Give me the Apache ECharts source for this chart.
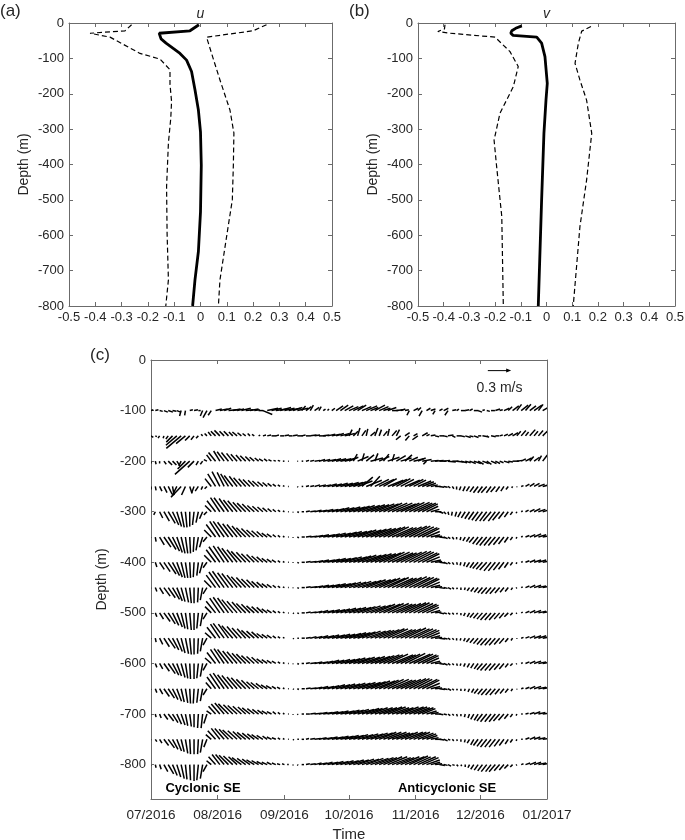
<!DOCTYPE html>
<html>
<head>
<meta charset="utf-8">
<script src="https://cdn.jsdelivr.net/npm/echarts@6/dist/echarts.min.js"></script>
<style>
  html, body { margin: 0; padding: 0; background: #fff; }
  #chart { width: 685px; height: 840px; }
</style>
</head>
<body>
<div id="chart"></div>
<script>
// ---- (a) u profile: mean and mean +/- std (m/s) ----
const uMeanDepth = [-5, -22, -29, -33, -45, -57, -86, -105, -137, -189, -246, -308, -402, -534, -646, -726, -800];
const uMean      = [-0.006, -0.04, -0.157, -0.16, -0.15, -0.131, -0.078, -0.053, -0.034, -0.021, -0.008, 0.0, 0.003, 0.0, -0.008, -0.021, -0.03];
const uUpDepth   = [-5, -22, -40, -100, -161, -246, -311, -400, -500, -576, -726, -800];
const uUp        = [0.251, 0.2, 0.023, 0.048, 0.074, 0.112, 0.127, 0.125, 0.121, 0.105, 0.074, 0.068];
const uLoDepth   = [-5, -22, -29, -40, -86, -102, -132, -173, -222, -269, -339, -463, -595, -726, -800];
const uLo        = [-0.262, -0.287, -0.42, -0.344, -0.23, -0.154, -0.116, -0.116, -0.11, -0.113, -0.122, -0.129, -0.127, -0.122, -0.132];

// ---- (b) v profile ----
const vMeanDepth = [-8, -15, -22, -29, -35, -40, -57, -95, -171, -218, -312, -500, -800];
const vMean      = [-0.096, -0.12, -0.135, -0.139, -0.13, -0.038, -0.019, -0.006, 0.003, -0.002, -0.01, -0.019, -0.032];
const vUpDepth   = [-10, -23, -57, -114, -161, -218, -312, -444, -576, -800];
const vUp        = [0.173, 0.137, 0.124, 0.111, 0.13, 0.156, 0.176, 0.156, 0.13, 0.104];
const vLoDepth   = [-5, -17, -24, -29, -40, -81, -123, -180, -255, -331, -406, -547, -800];
const vLo        = [-0.395, -0.397, -0.423, -0.375, -0.2, -0.142, -0.11, -0.129, -0.181, -0.204, -0.194, -0.174, -0.168];

const profileTicksX = [-0.5, 0.5, 0.1];

// ---- (c) stick plot: days since 2016-07-01, velocity in cm/s ----
const days = [0,2,4,6,8,10,12,14,16,18,20,22,24,26,28,30,32,34,36,38,40,42,44,46,48,50,52,54,56,58,60,62,64,66,68,70,72,74,76,78,80,82,84,86,88,90,
  92,94,96,98,100,102,104,106,108,110,112,114,116,118,120,122,124,126,128,130,132,134,136,138,140,142,144,146,148,150,152,154,156,158,160,162,164,166,168,170,172,174,176,178,180,182];

const monthTicks  = [0, 31, 62, 92, 123, 153, 184];
const monthLabels = ['07/2016', '08/2016', '09/2016', '10/2016', '11/2016', '12/2016', '01/2017'];
const depthTicks  = [0, -100, -200, -300, -400, -500, -600, -700, -800];
const rowDepths   = [-100, -150, -200, -250, -300, -350, -400, -450, -500, -550, -600, -650, -700, -750, -800];

const u100 = [3, 4, 4, 5, 6, 5, 5, -2, -1, 4, 5, 3, -3, -5, -4, 8, 10, 9, 11, 10, 9, 12, 10, 11, 7, 6, 12, 14, 13, 15, 14, 13, 15,
  12, 14, 5, 7, 4, 6, 3, 3, 2, 4, 9, 10, 11, 12, 13, 11, 12, 14, 10, 13, 12, 9, 11, 8, 9, 6, 5, -3, 6, 4, -4, 5, 6, -3,
  4, 6, -4, 5, 3, 6, 5, 4, 6, 5, 3, 4, 5, 6, 4, 7, 5, 8, 6, 9, 7, 8, 10, 6, 9];
const v100 = [1, 1, -1, -2, -2, -1, -2, -7, -6, 1, 1, 0, -7, -9, -6, 2, 2, 3, 1, 2, 2, 3, 1, 2, 1, 0, -5, 3, 3, 2, 4, 3, 3,
  4, 3, 6, 5, 7, 4, 5, 2, 2, 3, 6, 7, 6, 5, 6, 7, 5, 6, 4, 7, 5, 3, 4, 0, 1, 2, 1, -6, 3, 4, -7, 3, 2, -5,
  2, 3, -6, 1, 2, 0, 1, 2, 0, -2, 1, -1, 0, 2, 1, 3, 5, 6, 8, 7, 8, 6, 7, 8, 5];

const u150 = [3, 2, -2, -1, -3, -8, -14, -19, -12, -6, -4, -3, -2, -3, -4, -6, -7, -6, -6, -5, -6, -5, -4, -3, -3, 2, 4, 5, 6, 4, 5, 6, 5,
  6, 7, 5, 6, 8, 7, 9, 8, 10, 11, 10, 12, 13, 4, 6, 3, 5, 2, 6, 4, 3, 5, 2, 6, 4, -6, 6, -5, 5, -7, 7, 4, 6, 5,
  6, 5, 7, 4, 6, 5, 7, 5, 6, 4, 7, 3, 6, 5, 4, 5, 6, 7, 5, 6, 4, 7, 5, 6, 8];
const v150 = [-2, -1, -3, -3, -4, -8, -12, -16, -10, -6, -5, -3, 2, 3, 5, 6, 7, 6, 6, 5, 5, 4, 3, 3, 2, 1, 1, 1, 0, 1, 0, 1, 0,
  1, 0, 1, 0, 1, 1, 0, 1, 2, 2, 3, 3, 3, 8, 6, 10, 7, 9, 5, 10, 8, 6, 9, 7, 8, -5, 4, -6, 3, -5, 4, 2, 1, -1,
  0, -1, 1, -2, 0, -1, -2, -1, -2, 0, -1, -2, -1, 0, 1, 2, 3, 4, 6, 7, 5, 8, 6, 7, 8];

const u200 = [0, 1, 0, 3, 5, 5, 4, -3, -10, -19, -8, -3, -3, -4, -6, -9, -8, -9, -9, -8, -8, -7, -7, -6, -6, -5, -5, -4, -4, -3, -3, -2, -1,
  0, 1, 2, 4, 5, 7, 8, 9, 11, 12, 13, 14, 15, 12, 5, 14, 3, 10, 16, 4, 13, 7, 15, 3, 12, 14, 9, 11, 13, 10, 12, -4, 10, 11,
  9, 8, 10, 8, 9, 8, 7, 8, 9, 7, 8, 6, 7, 6, 5, 7, 6, 8, 7, 6, 8, 5, 7, 4, 6];
const v200 = [-3, -4, -3, -4, -5, -5, -6, -6, -10, -17, -8, -5, -4, 2, 8, 11, 13, 12, 11, 10, 9, 8, 7, 6, 5, 4, 3, 3, 2, 1, 1, 0, 0,
  0, 0, 0, 1, 1, 1, 2, 2, 2, 3, 3, 3, 4, 5, 9, 6, 10, 8, 4, 10, 6, 9, 5, 9, 7, 4, 8, 5, 3, 4, 2, -4, 1, 1,
  0, 1, -1, 0, -1, -2, -2, -3, -3, -4, -3, -4, -3, -3, -2, -2, -1, 0, 1, 3, 4, 6, 5, 7, 8];

const u250 = [0, 1, 3, 4, 5, 2, -6, -13, -5, 3, -3, -4, -2, -3, -8, -10, -10, -9, -10, -11, -10, -10, -9, -9, -8, -8, -7, -6, -5, -4, -3, -2, -1,
  0, 1, 2, 4, 5, 7, 9, 10, 12, 13, 15, 16, 18, 18, 17, 19, 14, 20, 12, 18, 19, 17, 20, 19, 18, 17, 19, 18, 16, 17, 15, 12, 9, 7,
  6, 5, 3, 2, 0, -2, -3, -4, -5, -6, -6, -7, -6, -6, -5, -4, -3, -1, 0, 3, 5, 6, 7, 8, 8];
const v250 = [-4, -5, -6, -8, -10, -11, -12, -14, -11, -9, -8, -6, -4, -3, 10, 16, 19, 18, 16, 14, 13, 11, 10, 9, 8, 7, 6, 5, 4, 3, 2, 1, 0,
  0, -1, 0, 1, 1, 2, 2, 2, 3, 3, 4, 4, 5, 5, 6, 7, 12, 8, 13, 9, 9, 10, 8, 9, 10, 9, 8, 9, 8, 7, 6, 4, 2, 0,
  -1, -1, -2, -3, -4, -5, -6, -6, -7, -8, -8, -8, -8, -7, -7, -6, -4, -2, -1, 1, 3, 4, 4, 3, 2];

const u300 = [-4, -2, 4, 7, 9, 8, 6, 4, 2, 0, -2, -3, -4, -4, -8, -11, -12, -13, -12, -12, -12, -11, -11, -10, -9, -8, -7, -6, -5, -4, -3, -2, -1,
  0, 2, 3, 5, 7, 9, 11, 13, 14, 16, 17, 18, 20, 21, 21, 22, 23, 24, 24, 25, 25, 24, 25, 26, 25, 24, 25, 26, 24, 23, 20, 15, 11, 8,
  5, 3, 1, -1, -2, -4, -5, -6, -7, -8, -9, -9, -10, -9, -9, -7, -5, -3, -1, 2, 4, 6, 8, 9, 10];
const v300 = [-3, -4, -8, -12, -15, -17, -19, -20, -20, -19, -17, -14, -9, -4, 8, 14, 18, 18, 17, 15, 14, 12, 11, 10, 8, 7, 6, 5, 4, 3, 2, 1, 0,
  -1, -1, 0, 1, 1, 2, 2, 3, 3, 4, 5, 5, 6, 6, 7, 8, 8, 9, 9, 10, 10, 11, 11, 11, 10, 11, 12, 12, 11, 11, 10, 7, 3, 0,
  -2, -3, -4, -5, -6, -7, -8, -9, -10, -11, -12, -12, -12, -12, -11, -9, -7, -4, -2, 1, 2, 3, 4, 3, 3];

const u350 = [-4, 1, 6, 9, 10, 9, 7, 5, 3, 1, -1, -3, -4, -5, -9, -12, -13, -14, -14, -13, -13, -12, -12, -11, -10, -9, -8, -7, -6, -4, -3, -2, -1,
  0, 2, 4, 7, 9, 11, 13, 15, 16, 18, 19, 21, 22, 23, 24, 24, 25, 26, 27, 27, 28, 28, 27, 27, 26, 27, 28, 27, 26, 25, 22, 17, 12, 9,
  7, 5, 3, 2, 0, -1, -3, -4, -6, -7, -8, -9, -9, -9, -8, -7, -5, -3, -1, 2, 5, 7, 9, 10, 11];
const v350 = [-4, -6, -10, -13, -16, -18, -20, -21, -21, -21, -19, -17, -13, -6, 9, 16, 20, 20, 19, 17, 16, 14, 12, 11, 9, 8, 7, 5, 4, 3, 2, 1, 0,
  -1, -1, 0, 1, 1, 2, 3, 3, 4, 5, 5, 6, 7, 7, 8, 9, 9, 10, 11, 11, 12, 13, 13, 12, 12, 13, 14, 14, 13, 12, 11, 7, 3, 1,
  -1, -2, -2, -3, -3, -4, -5, -6, -7, -9, -10, -11, -11, -11, -10, -9, -7, -4, -2, 1, 2, 3, 4, 3, 2];

const u400 = [-3, 2, 6, 8, 10, 9, 7, 5, 3, 1, -1, -2, -4, -5, -9, -12, -14, -14, -14, -14, -13, -13, -12, -11, -10, -9, -8, -7, -6, -5, -3, -2, -1,
  0, 2, 4, 6, 8, 11, 13, 15, 16, 18, 19, 21, 22, 23, 23, 24, 25, 26, 27, 27, 28, 27, 28, 27, 26, 27, 28, 28, 26, 25, 22, 17, 13, 9,
  7, 5, 3, 2, 1, -1, -2, -4, -5, -7, -8, -9, -9, -9, -8, -7, -5, -3, -1, 2, 5, 7, 9, 10, 11];
const v400 = [-4, -6, -9, -12, -15, -17, -19, -20, -20, -20, -19, -17, -14, -7, 9, 16, 20, 21, 20, 18, 16, 14, 13, 11, 10, 8, 7, 5, 4, 3, 2, 1, 0,
  -1, -1, 0, 1, 1, 2, 3, 3, 4, 5, 5, 6, 7, 7, 8, 9, 9, 10, 11, 11, 12, 13, 13, 12, 12, 13, 14, 14, 13, 12, 11, 7, 3, 1,
  -1, -2, -2, -3, -3, -4, -5, -6, -7, -8, -9, -10, -11, -11, -10, -9, -7, -4, -2, 1, 2, 3, 3, 3, 2];

const u450 = [-3, 2, 5, 8, 9, 9, 7, 5, 4, 2, 0, -1, -3, -5, -9, -12, -14, -15, -14, -14, -13, -13, -12, -11, -10, -9, -8, -7, -6, -4, -3, -2, -1,
  0, 2, 4, 6, 9, 11, 13, 14, 16, 18, 19, 20, 21, 22, 23, 24, 25, 25, 26, 27, 27, 28, 27, 27, 26, 27, 28, 27, 26, 25, 22, 17, 12, 9,
  7, 5, 4, 2, 1, 0, -1, -3, -4, -5, -6, -7, -7, -7, -6, -5, -4, -2, -1, 2, 5, 7, 9, 10, 11];
const v450 = [-3, -5, -8, -11, -13, -15, -17, -18, -19, -20, -20, -19, -16, -8, 9, 16, 20, 21, 19, 18, 16, 14, 13, 11, 10, 8, 7, 5, 4, 3, 2, 1, 0,
  -1, -1, 0, 1, 1, 2, 3, 3, 4, 5, 5, 6, 7, 7, 8, 8, 9, 10, 10, 11, 12, 12, 13, 12, 12, 13, 14, 13, 13, 12, 11, 7, 3, 1,
  -1, -1, -2, -2, -2, -3, -3, -4, -5, -6, -7, -8, -8, -8, -7, -6, -5, -3, -1, 1, 2, 3, 3, 2, 2];

const u500 = [-2, 2, 5, 8, 9, 8, 7, 5, 3, 2, 0, -2, -3, -5, -8, -12, -13, -14, -14, -14, -13, -12, -12, -11, -10, -9, -8, -7, -6, -4, -3, -2, -1,
  1, 2, 4, 6, 8, 10, 12, 14, 16, 17, 18, 20, 21, 22, 23, 23, 24, 25, 26, 26, 27, 26, 27, 26, 25, 26, 27, 26, 25, 24, 21, 16, 12, 8,
  6, 4, 3, 2, 1, 0, -2, -3, -5, -6, -7, -8, -8, -8, -7, -6, -5, -3, -1, 2, 5, 7, 9, 10, 10];
const v500 = [-4, -5, -8, -11, -14, -16, -18, -20, -21, -22, -22, -20, -17, -8, 8, 15, 19, 20, 19, 17, 15, 14, 12, 11, 9, 8, 7, 5, 4, 3, 2, 1, 0,
  -1, -1, 0, 1, 1, 2, 3, 3, 4, 4, 5, 6, 6, 7, 7, 8, 9, 9, 10, 11, 11, 12, 12, 11, 11, 12, 13, 13, 12, 11, 10, 7, 3, 1,
  -1, -1, -2, -2, -2, -3, -4, -5, -6, -7, -8, -9, -9, -9, -8, -7, -5, -3, -1, 1, 2, 3, 3, 2, 2];

const u550 = [-3, 1, 4, 7, 9, 8, 7, 5, 4, 2, 0, -1, -3, -5, -8, -11, -12, -14, -13, -14, -13, -12, -11, -11, -10, -9, -8, -7, -6, -4, -3, -2, 0,
  1, 2, 4, 6, 8, 10, 12, 14, 15, 17, 18, 19, 21, 22, 22, 23, 24, 25, 26, 25, 26, 27, 26, 26, 25, 26, 27, 26, 25, 24, 22, 17, 12, 9,
  7, 5, 3, 2, 0, -1, -2, -4, -5, -6, -7, -8, -8, -8, -7, -6, -4, -2, 0, 3, 5, 7, 9, 10, 11];
const v550 = [-4, -5, -8, -11, -13, -15, -17, -19, -20, -21, -21, -20, -17, -9, 7, 14, 18, 19, 18, 16, 15, 13, 12, 10, 9, 8, 6, 5, 4, 3, 2, 1, 0,
  -1, 0, 0, 1, 2, 2, 3, 3, 4, 4, 5, 5, 6, 7, 7, 8, 9, 9, 10, 10, 11, 12, 12, 11, 11, 12, 13, 12, 12, 11, 10, 7, 3, 1,
  -1, -1, -2, -2, -3, -3, -4, -5, -6, -7, -8, -9, -9, -9, -8, -7, -5, -3, -1, 1, 2, 3, 3, 3, 2];

const u600 = [-2, 2, 4, 7, 9, 8, 6, 5, 3, 1, 0, -2, -3, -5, -8, -11, -12, -13, -14, -13, -13, -12, -12, -11, -10, -9, -8, -7, -6, -5, -3, -2, -1,
  0, 2, 3, 5, 8, 10, 12, 13, 15, 16, 18, 19, 20, 21, 22, 22, 23, 24, 25, 25, 26, 25, 26, 27, 25, 25, 26, 27, 25, 24, 21, 16, 12, 8,
  6, 5, 3, 2, 1, -1, -2, -3, -4, -5, -7, -8, -8, -8, -7, -6, -4, -3, -1, 2, 5, 7, 9, 10, 11];
const v600 = [-3, -5, -7, -10, -13, -15, -16, -18, -19, -20, -20, -19, -17, -9, 7, 14, 18, 19, 18, 16, 15, 13, 12, 10, 9, 8, 6, 5, 4, 3, 2, 1, 0,
  -1, -1, 0, 1, 1, 2, 2, 3, 4, 4, 5, 5, 6, 7, 7, 8, 8, 9, 9, 10, 11, 11, 12, 11, 11, 12, 13, 12, 12, 11, 10, 7, 3, 1,
  -1, -2, -2, -2, -3, -3, -4, -5, -6, -7, -8, -9, -9, -9, -8, -7, -5, -3, -1, 1, 2, 3, 3, 2, 2];

const u650 = [-3, 2, 4, 7, 8, 7, 6, 4, 3, 1, -1, -2, -3, -5, -7, -11, -13, -14, -14, -14, -13, -13, -12, -11, -10, -10, -9, -8, -7, -5, -4, -2, -1,
  1, 2, 4, 6, 8, 10, 12, 14, 15, 17, 18, 19, 20, 21, 22, 23, 24, 25, 25, 26, 25, 26, 27, 26, 25, 26, 27, 26, 24, 25, 22, 17, 12, 9,
  7, 5, 4, 2, 1, 0, -1, -2, -3, -5, -6, -7, -7, -7, -6, -5, -4, -2, 0, 3, 5, 7, 9, 10, 10];
const v650 = [-4, -5, -7, -10, -12, -14, -16, -17, -18, -19, -19, -18, -16, -8, 8, 15, 19, 20, 18, 17, 15, 14, 12, 11, 9, 8, 7, 5, 4, 3, 2, 1, 0,
  -1, -1, 0, 1, 1, 2, 3, 3, 4, 5, 5, 6, 6, 7, 7, 8, 8, 9, 10, 10, 11, 12, 12, 11, 11, 12, 13, 13, 12, 12, 11, 7, 3, 1,
  -1, -1, -2, -2, -2, -3, -3, -4, -5, -6, -7, -8, -8, -8, -7, -6, -5, -3, -1, 1, 2, 3, 3, 2, 2];

const u700 = [-2, 1, 2, 5, 7, 7, 6, 5, 3, 2, 0, -1, -2, -4, -6, -9, -11, -12, -13, -12, -12, -11, -10, -10, -9, -8, -7, -7, -6, -4, -3, -2, -1,
  0, 1, 3, 5, 7, 9, 11, 12, 14, 15, 16, 18, 19, 19, 20, 21, 22, 21, 22, 23, 23, 24, 23, 22, 22, 23, 24, 23, 21, 20, 17, 13, 10, 7,
  5, 4, 3, 2, 1, 0, -1, -2, -4, -5, -7, -8, -8, -8, -8, -7, -5, -3, -1, 2, 4, 6, 8, 9, 9];
const v700 = [-3, -4, -5, -7, -9, -11, -13, -14, -15, -16, -17, -18, -18, -12, 4, 10, 13, 14, 13, 12, 11, 10, 9, 8, 7, 6, 5, 4, 3, 3, 2, 1, 0,
  -1, -1, 0, 0, 1, 1, 2, 2, 3, 3, 4, 4, 5, 5, 6, 6, 7, 7, 8, 8, 8, 9, 9, 8, 8, 9, 9, 9, 8, 8, 7, 4, 2, 0,
  -1, -1, -2, -2, -3, -3, -4, -5, -7, -8, -9, -10, -10, -10, -9, -8, -6, -4, -2, 0, 1, 2, 3, 2, 1];

const u750 = [-3, 2, 3, 6, 8, 7, 6, 4, 3, 1, 0, -1, -3, -4, -7, -10, -11, -12, -12, -13, -12, -11, -11, -10, -9, -9, -8, -6, -6, -5, -3, -2, -1,
  1, 2, 3, 4, 6, 8, 10, 12, 13, 15, 16, 17, 18, 19, 19, 20, 21, 22, 22, 23, 22, 23, 24, 23, 22, 22, 23, 22, 21, 20, 18, 14, 10, 8,
  6, 5, 3, 2, 1, 0, -1, -3, -4, -6, -7, -8, -8, -8, -7, -6, -4, -3, -1, 2, 5, 7, 8, 9, 9];
const v750 = [-4, -3, -5, -8, -11, -13, -15, -16, -18, -19, -19, -19, -17, -10, 6, 11, 14, 14, 13, 12, 11, 10, 9, 8, 7, 6, 5, 4, 3, 2, 2, 1, 0,
  -1, 0, 0, 1, 1, 1, 2, 2, 3, 3, 4, 4, 5, 5, 6, 6, 7, 7, 8, 8, 9, 9, 9, 8, 8, 9, 9, 9, 9, 8, 7, 5, 2, 0,
  -1, -2, -1, -2, -2, -3, -4, -5, -7, -8, -9, -10, -10, -10, -9, -8, -6, -4, -2, 0, 2, 3, 3, 2, 1];

const u800 = [-2, 1, 2, 5, 7, 6, 5, 4, 2, 1, 0, -2, -3, -5, -6, -9, -10, -11, -12, -12, -11, -12, -11, -10, -10, -9, -8, -7, -6, -5, -4, -3, -2,
  0, 1, 3, 5, 7, 9, 11, 12, 14, 15, 16, 17, 18, 19, 20, 21, 22, 22, 23, 24, 23, 24, 25, 24, 23, 24, 25, 24, 22, 23, 21, 17, 12, 9,
  7, 5, 4, 3, 2, 1, 0, -2, -4, -5, -6, -7, -7, -8, -7, -6, -5, -3, -1, 3, 6, 8, 9, 10, 10];
const v800 = [-3, -4, -6, -9, -12, -14, -16, -18, -19, -20, -21, -20, -18, -9, 5, 10, 13, 13, 12, 11, 10, 9, 8, 7, 6, 5, 4, 3, 3, 2, 1, 1, 0,
  -1, -1, 0, 1, 1, 2, 2, 3, 3, 4, 4, 5, 5, 6, 6, 7, 7, 8, 8, 9, 9, 10, 10, 9, 9, 10, 10, 11, 10, 10, 9, 6, 3, 1,
  -1, -1, -2, -1, -2, -2, -3, -4, -6, -7, -8, -9, -9, -9, -8, -7, -5, -3, -1, 1, 2, 3, 3, 2, 2];

const uRows = [u100, u150, u200, u250, u300, u350, u400, u450, u500, u550, u600, u650, u700, u750, u800];
const vRows = [v100, v150, v200, v250, v300, v350, v400, v450, v500, v550, v600, v650, v700, v750, v800];

// reference arrow: 0.3 m/s
const scaleArrow = { day: 156.5, depth: -21, speed: 30, label: '0.3 m/s' };

// ---- styling ----
const FONT = 'Liberation Sans, Arial, Helvetica, sans-serif';
const TXT = '#262626';
const AXC = '#6b6b6b';
const stickScale = 0.78; // px per cm/s

uRows.forEach((r, k) => {
  if (r.length !== days.length || vRows[k].length !== days.length) {
    throw new Error('row ' + rowDepths[k] + ' length ' + r.length + '/' + vRows[k].length);
  }
});

const stickData = [];
rowDepths.forEach((d, k) => {
  days.forEach((t, i) => stickData.push([t, d, uRows[k][i], vRows[k][i]]));
});

function axis(gridIndex, position, extra) {
  return Object.assign({
    type: 'value',
    gridIndex: gridIndex,
    position: position,
    axisLine: { show: true, onZero: false, lineStyle: { color: AXC, width: 1 } },
    axisTick: { show: true, inside: true, length: 4, lineStyle: { color: AXC } },
    axisLabel: { show: false },
    splitLine: { show: false }
  }, extra || {});
}

const labelStyle = { show: true, color: TXT, fontSize: 13, fontFamily: FONT, margin: 5 };

function profileX(grid, pos, name) {
  return axis(grid, pos, {
    min: profileTicksX[0], max: profileTicksX[1], interval: profileTicksX[2],
    axisLabel: pos === 'bottom'
      ? Object.assign({}, labelStyle, { formatter: v => String(Math.round(v * 10) / 10) })
      : { show: false },
    name: name || '', nameLocation: 'middle', nameGap: 2,
    nameTextStyle: { fontStyle: 'italic', fontSize: 14, color: TXT, fontFamily: FONT }
  });
}
function profileY(grid, pos) {
  return axis(grid, pos, {
    min: -800, max: 0, interval: 100,
    axisLabel: pos === 'left' ? labelStyle : { show: false },
    name: pos === 'left' ? 'Depth (m)' : '', nameLocation: 'middle', nameGap: 38, nameRotate: 90,
    nameTextStyle: { fontSize: 14, color: TXT, fontFamily: FONT }
  });
}

function line(xi, yi, depth, vals, dashed) {
  return {
    type: 'line', xAxisIndex: xi, yAxisIndex: yi, symbol: 'none', silent: true, clip: true,
    data: depth.map((d, i) => [vals[i], d]),
    lineStyle: dashed ? { color: '#000', width: 1.2, type: [5, 3] } : { color: '#000', width: 2.8 }
  };
}

const chart = echarts.init(document.getElementById('chart'), null, { renderer: 'canvas' });

chart.setOption({
  animation: false,
  backgroundColor: '#fff',
  textStyle: { fontFamily: FONT },
  grid: [
    { left: 69, top: 23, width: 263, height: 283, outerBoundsMode: 'none' },
    { left: 418, top: 23, width: 257, height: 283, outerBoundsMode: 'none' },
    { left: 151, top: 360, width: 396, height: 439, outerBoundsMode: 'none' }
  ],
  xAxis: [
    profileX(0, 'bottom'), profileX(0, 'top', 'u'),
    profileX(1, 'bottom'), profileX(1, 'top', 'v'),
    axis(2, 'bottom', {
      min: 0, max: 184,
      axisLabel: Object.assign({}, labelStyle, {
        fontSize: 13.5, margin: 9, customValues: monthTicks,
        formatter: v => monthLabels[monthTicks.indexOf(Math.round(v))]
      }),
      axisTick: { show: true, inside: true, length: 4, lineStyle: { color: AXC }, customValues: monthTicks },
      name: 'Time', nameLocation: 'middle', nameGap: 22,
      nameTextStyle: { fontSize: 15, color: TXT, fontFamily: FONT }
    }),
    axis(2, 'top', {
      min: 0, max: 184,
      axisTick: { show: true, inside: true, length: 4, lineStyle: { color: AXC }, customValues: monthTicks }
    })
  ],
  yAxis: [
    profileY(0, 'left'), profileY(0, 'right'),
    profileY(1, 'left'), profileY(1, 'right'),
    axis(2, 'left', {
      min: -868, max: 0,
      axisLabel: Object.assign({}, labelStyle, { customValues: depthTicks }),
      axisTick: { show: true, inside: true, length: 3, lineStyle: { color: AXC }, customValues: depthTicks },
      name: 'Depth (m)', nameLocation: 'middle', nameGap: 39, nameRotate: 90,
      nameTextStyle: { fontSize: 14, color: TXT, fontFamily: FONT }
    }),
    axis(2, 'right', { min: -868, max: 0, axisTick: { show: false } })
  ],
  series: [
    line(0, 0, uUpDepth, uUp, true),
    line(0, 0, uLoDepth, uLo, true),
    line(0, 0, uMeanDepth, uMean, false),
    line(2, 2, vUpDepth, vUp, true),
    line(2, 2, vLoDepth, vLo, true),
    line(2, 2, vMeanDepth, vMean, false),
    {
      type: 'custom', xAxisIndex: 4, yAxisIndex: 4, silent: true, clip: true,
      encode: { x: 0, y: 1 },
      data: stickData,
      renderItem: function (params, api) {
        const p = api.coord([api.value(0), api.value(1)]);
        return {
          type: 'line',
          shape: { x1: p[0], y1: p[1], x2: p[0] + api.value(2) * stickScale, y2: p[1] - api.value(3) * stickScale },
          style: { stroke: '#000', lineWidth: 1.5 }
        };
      }
    },
    {
      type: 'custom', xAxisIndex: 4, yAxisIndex: 4, silent: true,
      encode: { x: 0, y: 1 },
      data: [[scaleArrow.day, scaleArrow.depth, scaleArrow.speed]],
      renderItem: function (params, api) {
        const p = api.coord([api.value(0), api.value(1)]);
        const L = api.value(2) * stickScale;
        return {
          type: 'group',
          children: [
            { type: 'line', shape: { x1: p[0], y1: p[1], x2: p[0] + L - 3, y2: p[1] }, style: { stroke: '#000', lineWidth: 1 } },
            { type: 'polygon', shape: { points: [[p[0] + L, p[1]], [p[0] + L - 5, p[1] - 2], [p[0] + L - 5, p[1] + 2]] }, style: { fill: '#000' } },
            { type: 'text', x: p[0] + L / 2, y: p[1] + 11, style: { text: scaleArrow.label, fill: TXT, font: '14px ' + FONT, align: 'center', verticalAlign: 'top' } }
          ]
        };
      }
    }
  ],
  graphic: [
    { type: 'text', left: 0, top: 3, style: { text: '(a)', fill: TXT, font: '17px ' + FONT } },
    { type: 'text', left: 349, top: 3, style: { text: '(b)', fill: TXT, font: '17px ' + FONT } },
    { type: 'text', left: 90, top: 347, style: { text: '(c)', fill: TXT, font: '17px ' + FONT } },
    { type: 'text', x: 203, y: 788, style: { text: 'Cyclonic SE', fill: '#000', font: 'bold 13px ' + FONT, align: 'center', verticalAlign: 'middle' } },
    { type: 'text', x: 447, y: 788, style: { text: 'Anticyclonic SE', fill: '#000', font: 'bold 13px ' + FONT, align: 'center', verticalAlign: 'middle' } }
  ]
});
</script>
</body>
</html>
